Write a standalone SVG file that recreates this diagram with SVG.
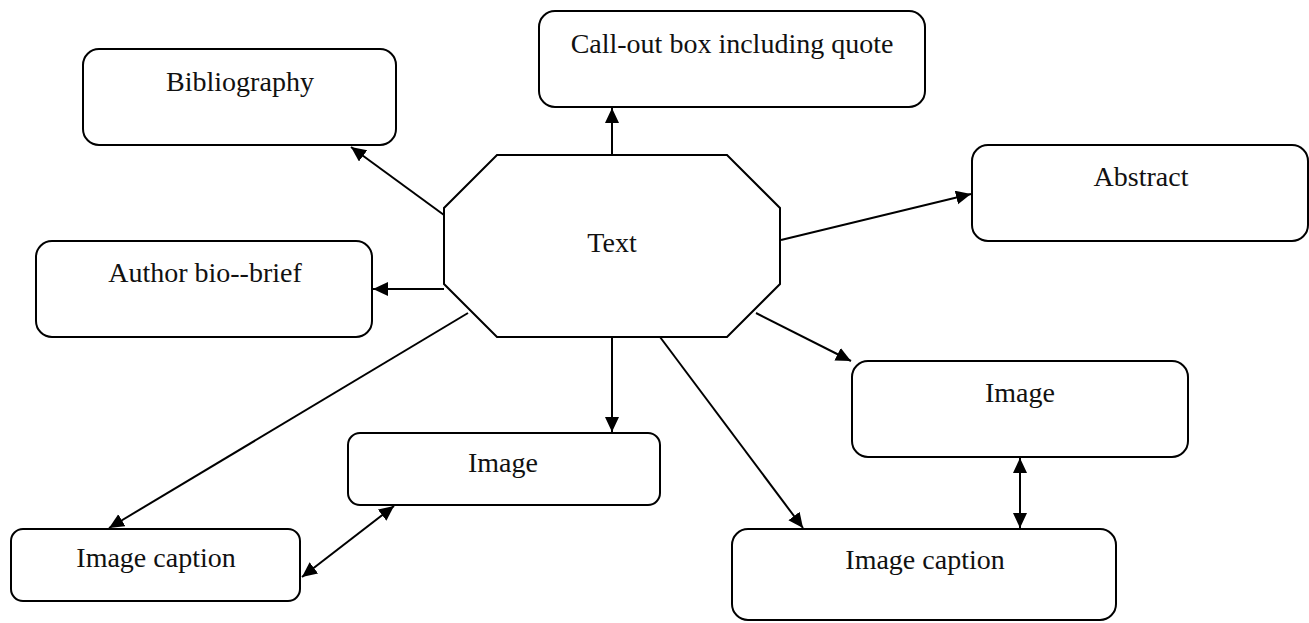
<svg xmlns="http://www.w3.org/2000/svg" width="1309" height="623" viewBox="0 0 1309 623">
<style>
.box{fill:#fff;stroke:#000;stroke-width:2}
.lbl{font-family:"Liberation Serif","Times New Roman",serif;font-size:28px;fill:#111;text-anchor:middle}
.con{stroke:#000;stroke-width:2;fill:none;marker-end:url(#ah)}
.dbl{marker-start:url(#ah)}
</style>
<defs>
<marker id="ah" markerUnits="userSpaceOnUse" markerWidth="16" markerHeight="15" refX="15" refY="7" orient="auto-start-reverse">
<path d="M0,0 L15,7 L0,14 z" fill="#000"/>
</marker>
</defs>
<rect width="1309" height="623" fill="#fff"/>
<g id="connectors">
<line class="con" x1="612" y1="155" x2="612" y2="108"/>
<line class="con" x1="444" y1="215" x2="351" y2="147"/>
<line class="con" x1="444" y1="289" x2="373" y2="289"/>
<line class="con" x1="781" y1="240" x2="971" y2="194"/>
<line class="con" x1="756" y1="313" x2="851" y2="361"/>
<line class="con" x1="612" y1="337" x2="612" y2="432"/>
<line class="con" x1="660" y1="337" x2="803" y2="528"/>
<line class="con" x1="468" y1="313" x2="109" y2="528"/>
<line class="con dbl" x1="302" y1="577" x2="394" y2="506"/>
<line class="con dbl" x1="1020" y1="458" x2="1020" y2="528"/>
</g>
<g id="text-node">
<polygon class="box" points="497,155 727,155 780,208 780,284 727,337 497,337 444,284 444,208"/>
<text class="lbl" x="612" y="252">Text</text>
</g>
<g id="callout">
<rect class="box" x="539" y="11" width="386" height="96" rx="16"/>
<text class="lbl" x="732" y="53">Call-out box including quote</text>
</g>
<g id="bibliography">
<rect class="box" x="83" y="49" width="313" height="96" rx="16"/>
<text class="lbl" x="240" y="91">Bibliography</text>
</g>
<g id="abstract">
<rect class="box" x="972" y="145" width="336" height="96" rx="16"/>
<text class="lbl" x="1141" y="186">Abstract</text>
</g>
<g id="author">
<rect class="box" x="36" y="241" width="336" height="96" rx="16"/>
<text class="lbl" x="205" y="282">Author bio--brief</text>
</g>
<g id="image-right">
<rect class="box" x="852" y="361" width="336" height="96" rx="16"/>
<text class="lbl" x="1020" y="402">Image</text>
</g>
<g id="image-middle">
<rect class="box" x="348" y="433" width="312" height="72" rx="12"/>
<text class="lbl" x="503" y="472">Image</text>
</g>
<g id="caption-left">
<rect class="box" x="11" y="529" width="289" height="72" rx="12"/>
<text class="lbl" x="156" y="567">Image caption</text>
</g>
<g id="caption-right">
<rect class="box" x="732" y="529" width="384" height="91" rx="16"/>
<text class="lbl" x="925" y="569">Image caption</text>
</g>
</svg>
